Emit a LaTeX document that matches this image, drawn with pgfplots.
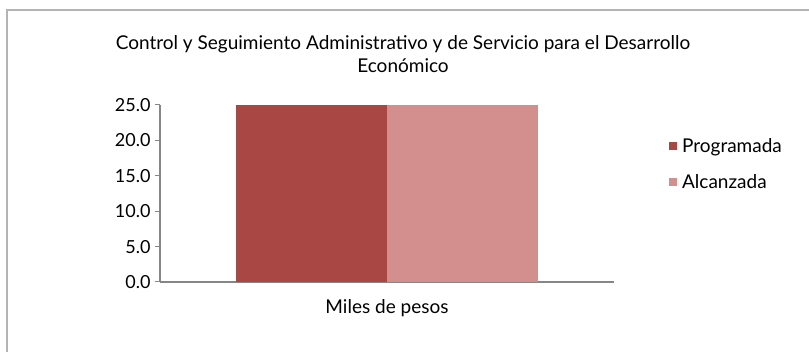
\documentclass[border=0pt]{standalone}
\usepackage{pgfplots}
\pgfplotsset{compat=1.18}
\usepackage{fontspec}
\setmainfont{Lato}
\definecolor{prog}{HTML}{A94745}
\definecolor{alc}{HTML}{D38E8E}
\definecolor{axgray}{HTML}{868686}
\definecolor{framegray}{HTML}{B4B4B4}
\begin{document}
\begin{tikzpicture}
\path[use as bounding box] (0pt,0pt) rectangle (809pt,352pt);
\draw[framegray, line width=2pt] (7pt,-2pt) -- (7pt,342pt) -- (811pt,342pt);
\node[align=center, font=\fontsize{19}{23}\selectfont, inner sep=0pt] at (403pt,298pt) {Control y Seguimiento Administrativo y de Servicio para el Desarrollo\\Económico};
\begin{axis}[
  at={(160pt,70pt)}, anchor=south west, scale only axis,
  width=454pt, height=177pt,
  xmin=-1.5, xmax=1.5, ymin=0, ymax=25,
  axis x line*=bottom, axis y line*=left,
  axis line style={axgray, line width=1.2pt, -},
  ytick={0,5,10,15,20,25},
  yticklabel style={/pgf/number format/fixed, /pgf/number format/fixed zerofill, /pgf/number format/precision=1, /pgf/number format/assume math mode=true, font=\fontsize{18}{20}\selectfont, xshift=-1pt},
  xtick={0}, xticklabels={Miles de pesos},
  xticklabel style={font=\fontsize{19}{20}\selectfont, yshift=-9pt},
  x tick style={draw=none},
  extra x ticks={-1.5,1.5}, extra x tick labels={},
  extra x tick style={tick style={axgray, line width=1pt}, major tick length=5pt},
  y tick style={axgray, line width=1pt},
  major tick length=5pt, tick align=outside,
  ybar, bar width=1,
  legend style={at={(1.121,0.825)}, anchor=north west, draw=none, fill=none,
    font=\fontsize{19}{20}\selectfont, row sep=17pt, inner sep=0pt,
    /tikz/every odd column/.append style={column sep=3pt}},
  legend cell align=left,
  legend image code/.code={\fill[#1] (0pt,-4pt) rectangle (8pt,4pt);},
]
\addplot[fill=prog, draw=none, bar shift=0] coordinates {(-0.5,25)};
\addplot[fill=alc, draw=none, bar shift=0] coordinates {(0.5,25)};
\legend{Programada, Alcanzada}
\end{axis}
\end{tikzpicture}
\end{document}
